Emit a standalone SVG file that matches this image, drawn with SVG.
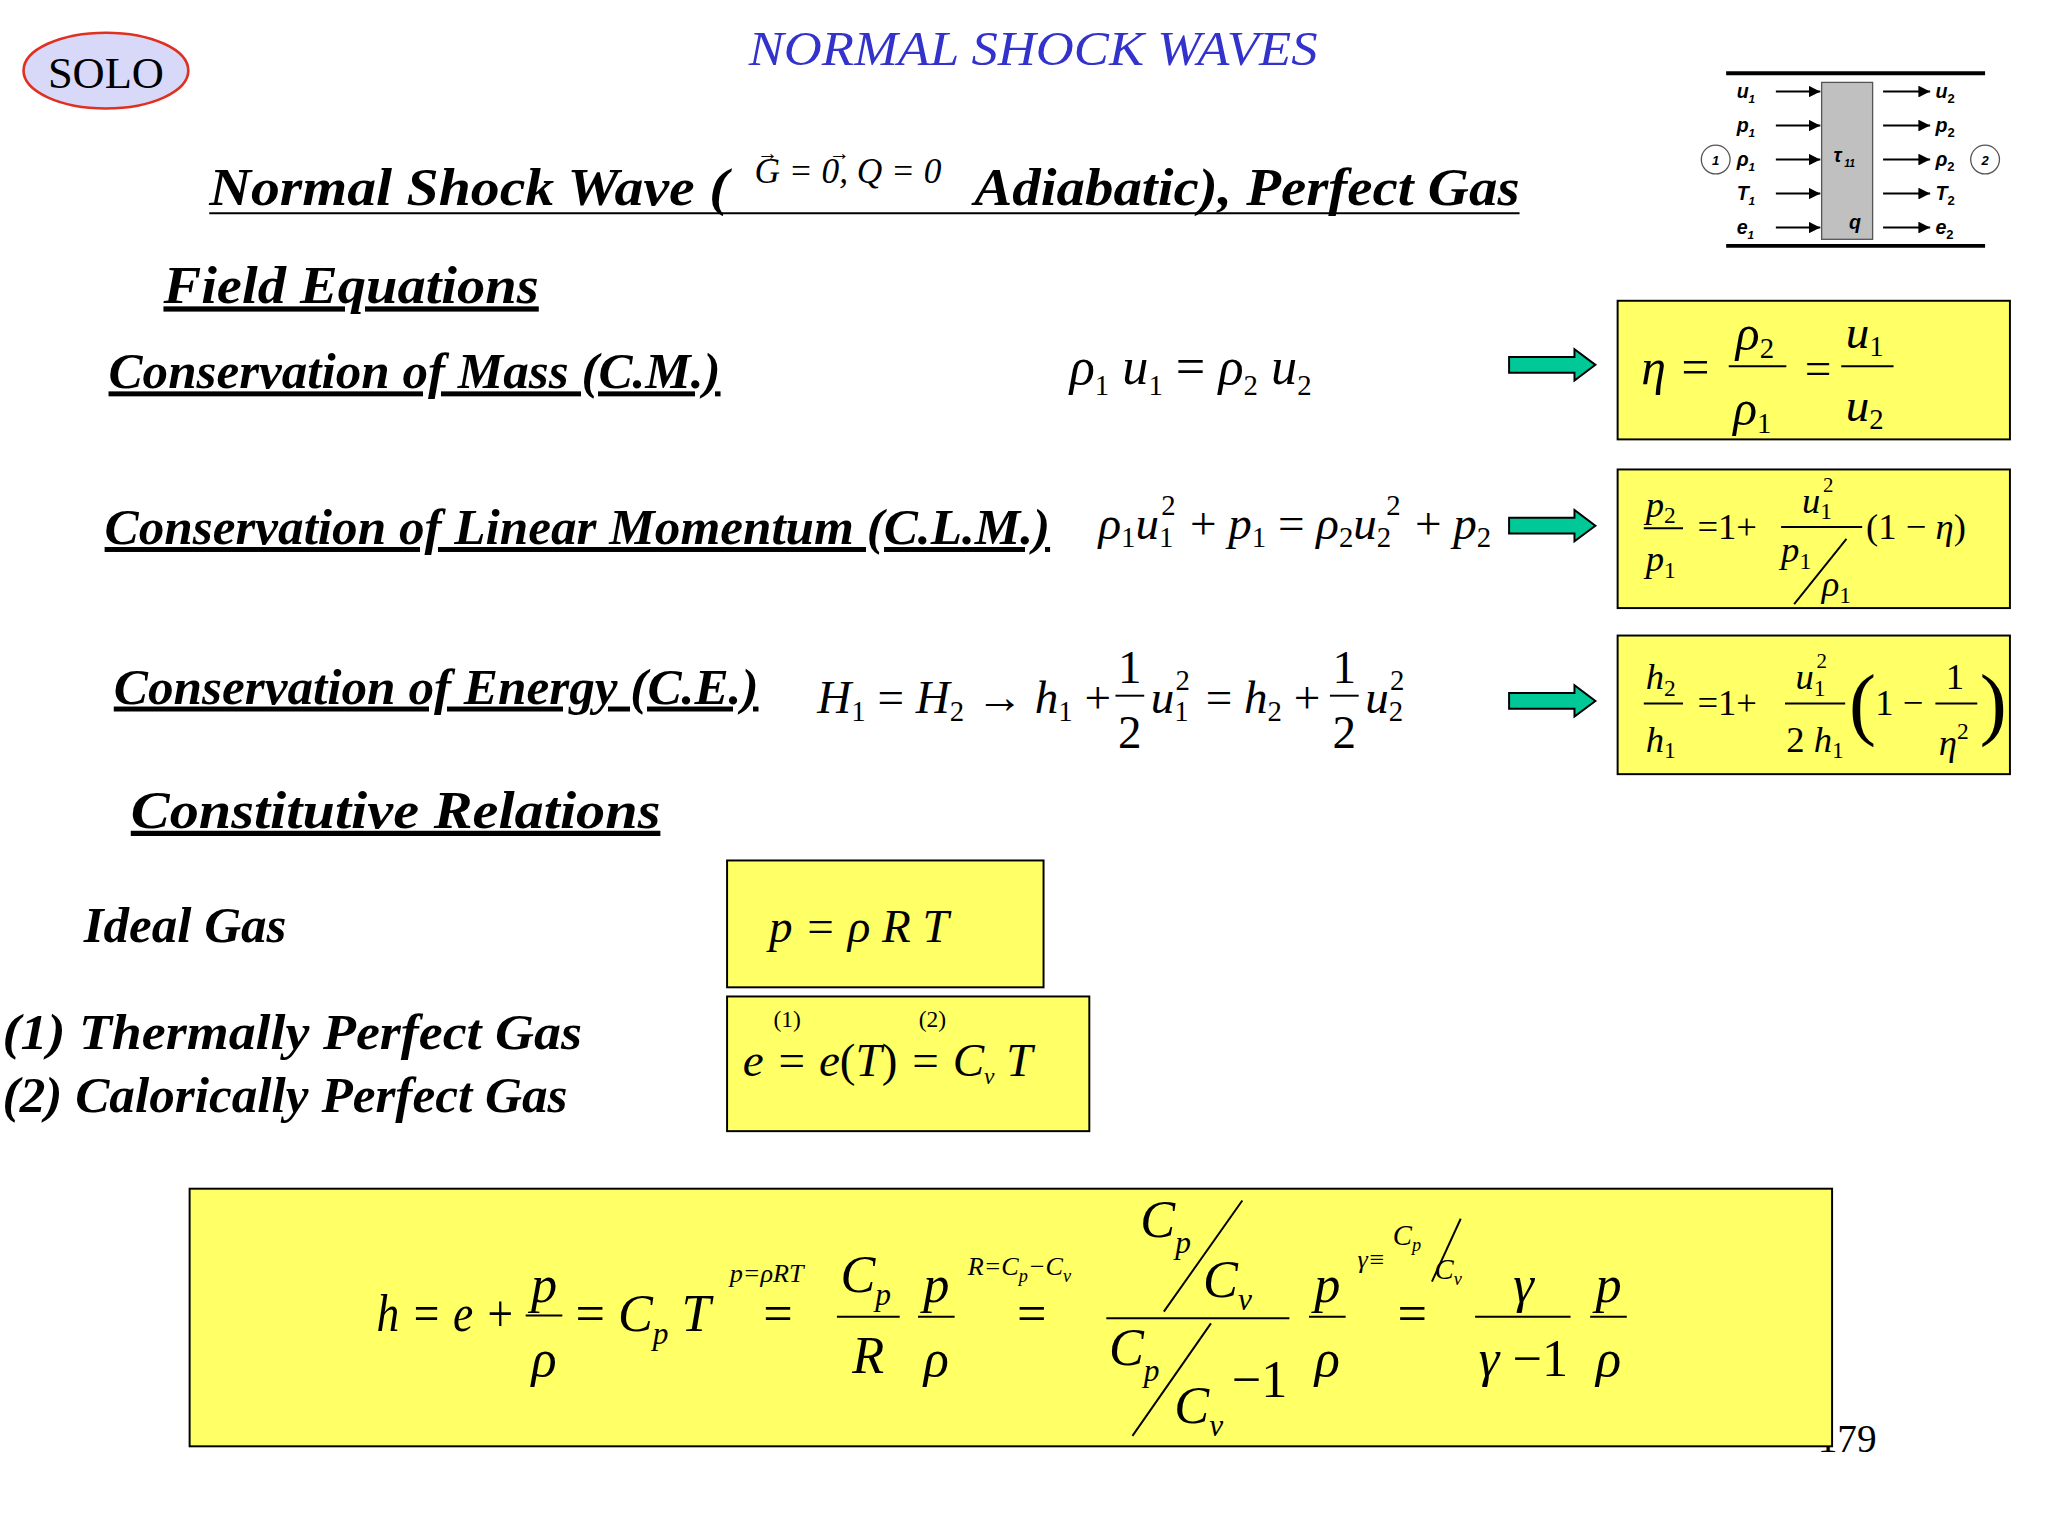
<svg xmlns="http://www.w3.org/2000/svg" width="2048" height="1536" viewBox="0 0 2048 1536">
<style>
.h{font-family:"Liberation Serif",serif;font-weight:bold;font-style:italic;font-size:38px;fill:#000}
.m{font-family:"Liberation Serif",serif;font-style:italic;font-size:36px;fill:#000}
.n{font-family:"Liberation Serif",serif;font-style:normal;font-size:36px;fill:#000}
.s{font-size:22px}
.a{font-family:"Liberation Sans",sans-serif;font-weight:bold;font-style:italic;font-size:15px}
.box{fill:#ffff66;stroke:#000;stroke-width:1.5}
.ln{stroke:#000;stroke-width:1.5;fill:none}
</style>
<defs>
<marker id="ah" viewBox="0 0 10 10" refX="10" refY="5" markerWidth="6" markerHeight="6" orient="auto"><path d="M0,0 L10,5 L0,10 z" fill="#000"/></marker>
<g id="garrow"><path d="M0,-6 H50 V-12 L66,0 L50,12 V6 H0 z" fill="#00c896" stroke="#000" stroke-width="1.5"/></g>
</defs>
<rect width="2048" height="1536" fill="#fff"/>
<g transform="scale(1.3077)">
<g id="solo"><ellipse cx="81" cy="54" rx="63" ry="29" fill="#d8d8f8" stroke="#e03020" stroke-width="2"/><text x="81" y="67" text-anchor="middle" style="font-family:'Liberation Serif',serif;font-size:34px">SOLO</text></g>
<text x="790" y="50" text-anchor="middle" textLength="435" lengthAdjust="spacingAndGlyphs" style="font-family:'Liberation Serif',serif;font-style:italic;font-size:37px;fill:#3333cc">NORMAL SHOCK WAVES</text>
<g id="heading">
<text x="160" y="157" class="h" textLength="397" lengthAdjust="spacingAndGlyphs" style="font-size:40px">Normal Shock Wave (</text>
<text x="577" y="140" class="m" style="font-size:27px">G = 0, Q = 0</text>
<text x="579" y="122" class="n" style="font-size:16px">→</text>
<text x="634" y="122" class="n" style="font-size:16px">→</text>
<text x="745" y="157" class="h" textLength="417" lengthAdjust="spacingAndGlyphs" style="font-size:40px">Adiabatic), Perfect Gas</text>
<line x1="160" y1="163" x2="1162" y2="163" class="ln" stroke-width="2"/>
</g>
<text x="125" y="232" class="h" text-decoration="underline" textLength="287" lengthAdjust="spacingAndGlyphs" style="font-size:40px">Field Equations</text>
<text x="83" y="297" class="h" text-decoration="underline" textLength="468" lengthAdjust="spacingAndGlyphs">Conservation of Mass (C.M.)</text>
<text x="80" y="416" class="h" text-decoration="underline" textLength="723" lengthAdjust="spacingAndGlyphs">Conservation of Linear Momentum (C.L.M.)</text>
<text x="87" y="538" class="h" text-decoration="underline" textLength="493" lengthAdjust="spacingAndGlyphs">Conservation of Energy (C.E.)</text>
<text x="100" y="633" class="h" text-decoration="underline" textLength="405" lengthAdjust="spacingAndGlyphs" style="font-size:40px">Constitutive Relations </text>
<text x="64" y="720" class="h" textLength="155" lengthAdjust="spacingAndGlyphs">Ideal Gas</text>
<text x="2" y="802" class="h" textLength="443" lengthAdjust="spacingAndGlyphs">(1)   Thermally Perfect Gas</text>
<text x="2" y="850" class="h" textLength="432" lengthAdjust="spacingAndGlyphs">(2) Calorically Perfect Gas</text>

<text x="818" y="294" class="m" style="font-size:40px">ρ<tspan class="s" dy="8" font-style="normal">1</tspan><tspan dy="-8"> u</tspan><tspan class="s" dy="8" font-style="normal">1</tspan><tspan dy="-8" font-style="normal">  =  </tspan>ρ<tspan class="s" dy="8" font-style="normal">2</tspan><tspan dy="-8"> u</tspan><tspan class="s" dy="8" font-style="normal">2</tspan></text>
<g id="clm-eq">
<text x="840" y="412" class="m">ρ<tspan class="s" dy="6" font-style="normal">1</tspan><tspan dy="-6">u</tspan><tspan class="s" dy="6" font-style="normal">1</tspan></text>
<text x="888" y="394" class="n s">2</text>
<text x="910" y="412" class="m"><tspan font-style="normal">+ </tspan>p<tspan class="s" dy="6" font-style="normal">1</tspan><tspan dy="-6" font-style="normal"> = </tspan>ρ<tspan class="s" dy="6" font-style="normal">2</tspan><tspan dy="-6">u</tspan><tspan class="s" dy="6" font-style="normal">2</tspan></text>
<text x="1060" y="394" class="n s">2</text>
<text x="1082" y="412" class="m"><tspan font-style="normal">+ </tspan>p<tspan class="s" dy="6" font-style="normal">2</tspan></text>
</g>
<g id="energy-eq">
<text x="625" y="545" class="m">H<tspan class="s" dy="6" font-style="normal">1</tspan><tspan dy="-6" font-style="normal"> = </tspan>H<tspan class="s" dy="6" font-style="normal">2</tspan><tspan dy="-6" font-style="normal"> → </tspan>h<tspan class="s" dy="6" font-style="normal">1</tspan><tspan dy="-6" font-style="normal"> +</tspan></text>
<text x="864" y="522" class="n" text-anchor="middle">1</text><line x1="853" y1="532" x2="875" y2="532" class="ln"/><text x="864" y="572" class="n" text-anchor="middle">2</text>
<text x="880" y="545" class="m">u<tspan class="s" dy="6" font-style="normal">1</tspan></text>
<text x="899" y="528" class="n s">2</text>
<text x="922" y="545" class="m"><tspan font-style="normal">= </tspan>h<tspan class="s" dy="6" font-style="normal">2</tspan><tspan dy="-6" font-style="normal"> +</tspan></text>
<text x="1028" y="522" class="n" text-anchor="middle">1</text><line x1="1017" y1="532" x2="1039" y2="532" class="ln"/><text x="1028" y="572" class="n" text-anchor="middle">2</text>
<text x="1044" y="545" class="m">u<tspan class="s" dy="6" font-style="normal">2</tspan></text>
<text x="1063" y="528" class="n s">2</text>
</g>
<g id="arrows"><use href="#garrow" x="1154" y="279"/><use href="#garrow" x="1154" y="402"/><use href="#garrow" x="1154" y="536"/></g>

<g id="box-eta"><rect x="1237" y="230" width="300" height="106" class="box"/>
<text x="1255" y="294" class="m" style="font-size:38px">η =</text>
<text x="1342" y="268" class="m" text-anchor="middle" style="font-size:38px">ρ<tspan class="s" dy="6" font-style="normal">2</tspan></text><line x1="1322" y1="280" x2="1366" y2="280" class="ln"/>
<text x="1340" y="325" class="m" text-anchor="middle" style="font-size:38px">ρ<tspan class="s" dy="6" font-style="normal">1</tspan></text>
<text x="1380" y="294" class="n">=</text>
<text x="1426" y="266" class="m" text-anchor="middle">u<tspan class="s" dy="6" font-style="normal">1</tspan></text><line x1="1408" y1="280" x2="1448" y2="280" class="ln"/>
<text x="1426" y="322" class="m" text-anchor="middle">u<tspan class="s" dy="6" font-style="normal">2</tspan></text>
</g>
<g id="box-p"><rect x="1237" y="359" width="300" height="106" class="box"/>
<text x="1270" y="395" class="m" text-anchor="middle" style="font-size:28px">p<tspan dy="5" font-style="normal" style="font-size:18px">2</tspan></text><line x1="1257" y1="404" x2="1287" y2="404" class="ln"/>
<text x="1270" y="437" class="m" text-anchor="middle" style="font-size:28px">p<tspan dy="5" font-style="normal" style="font-size:18px">1</tspan></text>
<text x="1298" y="412" class="n" style="font-size:28px">=1+</text>
<text x="1378" y="392" class="m" style="font-size:28px">u<tspan dy="5" font-style="normal" style="font-size:18px">1</tspan></text>
<text x="1394" y="376" class="n" style="font-size:16px">2</text>
<line x1="1362" y1="403" x2="1424" y2="403" class="ln"/>
<text x="1362" y="430" class="m" style="font-size:28px">p<tspan dy="5" font-style="normal" style="font-size:18px">1</tspan></text>
<line x1="1412" y1="412" x2="1372" y2="462" class="ln"/>
<text x="1393" y="456" class="m" style="font-size:28px">ρ<tspan dy="5" font-style="normal" style="font-size:18px">1</tspan></text>
<text x="1427" y="412" class="n" style="font-size:28px">(1 − <tspan font-style="italic">η</tspan>)</text>
</g>
<g id="box-h"><rect x="1237" y="486" width="300" height="106" class="box"/>
<text x="1270" y="527" class="m" text-anchor="middle" style="font-size:28px">h<tspan dy="5" font-style="normal" style="font-size:18px">2</tspan></text><line x1="1257" y1="538" x2="1287" y2="538" class="ln"/>
<text x="1270" y="575" class="m" text-anchor="middle" style="font-size:28px">h<tspan dy="5" font-style="normal" style="font-size:18px">1</tspan></text>
<text x="1298" y="547" class="n" style="font-size:28px">=1+</text>
<text x="1373" y="527" class="m" style="font-size:28px">u<tspan dy="5" font-style="normal" style="font-size:18px">1</tspan></text>
<text x="1389" y="511" class="n" style="font-size:16px">2</text>
<line x1="1365" y1="538" x2="1411" y2="538" class="ln"/>
<text x="1388" y="575" class="m" text-anchor="middle" style="font-size:28px"><tspan font-style="normal">2</tspan> h<tspan dy="5" font-style="normal" style="font-size:18px">1</tspan></text>
<text x="1414" y="558" class="n" style="font-size:62px">(</text>
<text x="1434" y="547" class="n" style="font-size:28px">1 −</text>
<text x="1495" y="527" class="n" text-anchor="middle" style="font-size:28px">1</text><line x1="1480" y1="538" x2="1512" y2="538" class="ln"/>
<text x="1494" y="577" class="m" text-anchor="middle" style="font-size:28px">η<tspan dy="-12" font-style="normal" style="font-size:18px">2</tspan></text>
<text x="1514" y="558" class="n" style="font-size:62px">)</text>
</g>

<g id="box-ideal"><rect x="556" y="658" width="242" height="97" class="box"/>
<text x="588" y="720" class="m">p = ρ R T</text></g>
<g id="box-e"><rect x="556" y="762" width="277" height="103" class="box"/>
<text x="568" y="823" class="m">e = e<tspan font-style="normal">(</tspan>T<tspan font-style="normal">)</tspan> = C<tspan dy="6" style="font-size:18px">v</tspan><tspan dy="-6"> T</tspan></text>
<text x="602" y="785" class="n" text-anchor="middle" style="font-size:18px">(1)</text>
<text x="713" y="785" class="n" text-anchor="middle" style="font-size:18px">(2)</text>
</g>

<text x="1390" y="1110" class="n" style="font-size:30px">179</text>
<g id="box-h-formula"><rect x="145" y="909" width="1256" height="197" class="box"/>
<g class="m" style="font-size:40px">
<text x="288" y="1018" textLength="106" lengthAdjust="spacingAndGlyphs">h = e +</text>
<text x="416" y="996" text-anchor="middle">p</text><line x1="402" y1="1006" x2="430" y2="1006" class="ln"/><text x="416" y="1052" text-anchor="middle">ρ</text>
<text x="440" y="1018"><tspan font-style="normal">=</tspan> C<tspan dy="10" style="font-size:24px">p</tspan><tspan dy="-10"> T</tspan></text>
<text x="595" y="1018" text-anchor="middle" font-style="normal">=</text>
<text x="558" y="980" style="font-size:20px">p=ρRT</text>
<text x="662" y="988" text-anchor="middle">C<tspan dy="10" style="font-size:24px">p</tspan></text><line x1="640" y1="1007" x2="688" y2="1007" class="ln"/><text x="664" y="1050" text-anchor="middle">R</text>
<text x="716" y="996" text-anchor="middle">p</text><line x1="702" y1="1007" x2="730" y2="1007" class="ln"/><text x="716" y="1052" text-anchor="middle">ρ</text>
<text x="789" y="1018" text-anchor="middle" font-style="normal">=</text>
<text x="740" y="975" style="font-size:20px">R=C<tspan dy="5" style="font-size:14px">p</tspan><tspan dy="-5">−C</tspan><tspan dy="5" style="font-size:14px">v</tspan></text>
<text x="872" y="946">C<tspan dy="12" style="font-size:24px">p</tspan></text>
<line x1="950" y1="918" x2="890" y2="1003" class="ln"/>
<text x="920" y="992">C<tspan dy="10" style="font-size:24px">v</tspan></text>
<line x1="846" y1="1008" x2="986" y2="1008" class="ln"/>
<text x="848" y="1044">C<tspan dy="12" style="font-size:24px">p</tspan></text>
<line x1="926" y1="1012" x2="866" y2="1098" class="ln"/>
<text x="898" y="1088">C<tspan dy="10" style="font-size:24px">v</tspan></text>
<text x="942" y="1068" font-style="normal">−1</text>
<text x="1015" y="996" text-anchor="middle">p</text><line x1="1001" y1="1007" x2="1029" y2="1007" class="ln"/><text x="1015" y="1052" text-anchor="middle">ρ</text>
<text x="1080" y="1018" text-anchor="middle" font-style="normal">=</text>
<text x="1038" y="970" style="font-size:20px">γ≡</text>
<text x="1065" y="952" style="font-size:22px">C<tspan dy="5" style="font-size:14px">p</tspan></text>
<line x1="1117" y1="932" x2="1095" y2="980" class="ln"/>
<text x="1097" y="978" style="font-size:22px">C<tspan dy="5" style="font-size:14px">v</tspan></text>
<text x="1165" y="996" text-anchor="middle">γ</text><line x1="1128" y1="1007" x2="1201" y2="1007" class="ln"/><text x="1165" y="1052" text-anchor="middle">γ <tspan font-style="normal">−1</tspan></text>
<text x="1230" y="996" text-anchor="middle">p</text><line x1="1216" y1="1007" x2="1244" y2="1007" class="ln"/><text x="1230" y="1052" text-anchor="middle">ρ</text>
</g></g>

<g id="shock-diagram">
<line x1="1320" y1="56" x2="1518" y2="56" stroke="#000" stroke-width="3"/>
<line x1="1320" y1="188" x2="1518" y2="188" stroke="#000" stroke-width="3"/>
<rect x="1393" y="63" width="39" height="120" fill="#c0c0c0" stroke="#555" stroke-width="1"/>
<text x="1402" y="124" class="a">τ<tspan dy="4" style="font-size:8px"> 11</tspan></text>
<text x="1414" y="175" class="a">q</text>
<g class="ln" marker-end="url(#ah)"><line x1="1358" y1="70" x2="1392" y2="70"/><line x1="1358" y1="96" x2="1392" y2="96"/><line x1="1358" y1="122" x2="1392" y2="122"/><line x1="1358" y1="148" x2="1392" y2="148"/><line x1="1358" y1="174" x2="1392" y2="174"/>
<line x1="1440" y1="70" x2="1476" y2="70"/><line x1="1440" y1="96" x2="1476" y2="96"/><line x1="1440" y1="122" x2="1476" y2="122"/><line x1="1440" y1="148" x2="1476" y2="148"/><line x1="1440" y1="174" x2="1476" y2="174"/></g>
<g class="a"><text x="1328" y="75">u<tspan dy="4" style="font-size:9px">1</tspan></text><text x="1328" y="101">p<tspan dy="4" style="font-size:9px">1</tspan></text><text x="1328" y="127">ρ<tspan dy="4" style="font-size:9px">1</tspan></text><text x="1328" y="153">T<tspan dy="4" style="font-size:9px">1</tspan></text><text x="1328" y="179">e<tspan dy="4" style="font-size:9px">1</tspan></text>
<text x="1480" y="75">u<tspan dy="4" style="font-size:10px" font-style="normal">2</tspan></text><text x="1480" y="101">p<tspan dy="4" style="font-size:10px" font-style="normal">2</tspan></text><text x="1480" y="127">ρ<tspan dy="4" style="font-size:10px" font-style="normal">2</tspan></text><text x="1480" y="153">T<tspan dy="4" style="font-size:10px" font-style="normal">2</tspan></text><text x="1480" y="179">e<tspan dy="4" style="font-size:10px" font-style="normal">2</tspan></text></g>
<circle cx="1312" cy="122" r="11" fill="none" stroke="#555"/><text x="1312" y="126" text-anchor="middle" class="a" style="font-size:10px">1</text>
<circle cx="1518" cy="122" r="11" fill="none" stroke="#555"/><text x="1518" y="126" text-anchor="middle" class="a" style="font-size:10px">2</text>
</g>
</g>
</svg>
